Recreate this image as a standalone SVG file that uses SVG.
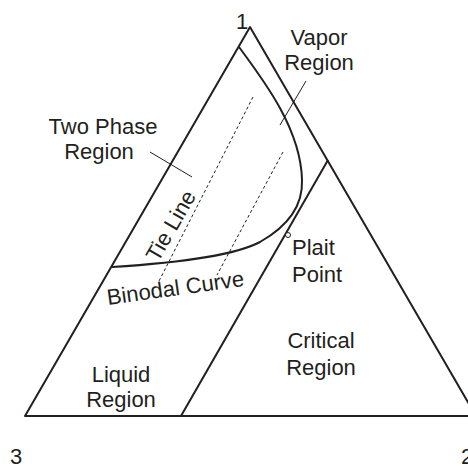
<svg xmlns="http://www.w3.org/2000/svg" width="468" height="468" viewBox="0 0 468 468">
<style>
.ln{fill:none;stroke:#231f20;stroke-width:2;stroke-linejoin:round}
.thin{fill:none;stroke:#231f20;stroke-width:1}
.dash{fill:none;stroke:#231f20;stroke-width:1;stroke-dasharray:3 2.5}
text{font-family:"Liberation Sans",Arial,sans-serif;font-size:22px;fill:#231f20}
.m{text-anchor:middle}
</style>
<rect width="468" height="468" fill="#fff"/>
<g id="connectors">
<path class="ln" d="M25,416 L250,27 L476,416 Z"/>
<path class="ln" d="M181,416 L328,160"/>
<path class="ln" d="M239,47 C265,82 301,130 302,180 C303,205 290,225 260,242 C230,258 160,264 112,267"/>
<path class="dash" d="M253,97 L158,283"/>
<path class="dash" d="M283,152 L217,275"/>
<path class="thin" d="M150,152 L192,177"/>
<path class="thin" d="M306,81 L280,125"/>
</g>
<g id="plait-marker"><circle cx="288" cy="235" r="2.5" fill="#fff" stroke="#231f20" stroke-width="1"/></g>
<g id="vertex-1"><text x="236" y="29" font-size="20">1</text></g>
<g id="vertex-3"><text x="10" y="464" font-size="20">3</text></g>
<g id="vertex-2"><text x="461" y="464" font-size="20">2</text></g>
<g id="vapor"><text class="m" x="319" y="45">Vapor</text><text class="m" x="319" y="70">Region</text></g>
<g id="two-phase"><text class="m" x="103" y="134">Two Phase</text><text class="m" x="99" y="159">Region</text></g>
<g id="tie-line"><text transform="translate(158,263) rotate(-60)">Tie Line</text></g>
<g id="binodal"><text transform="translate(108,305) rotate(-8)">Binodal Curve</text></g>
<g id="plait"><text x="292" y="255">Plait</text><text x="292" y="282">Point</text></g>
<g id="critical"><text class="m" x="321" y="348">Critical</text><text class="m" x="321" y="375">Region</text></g>
<g id="liquid"><text class="m" x="121" y="382">Liquid</text><text class="m" x="121" y="407">Region</text></g>
</svg>
